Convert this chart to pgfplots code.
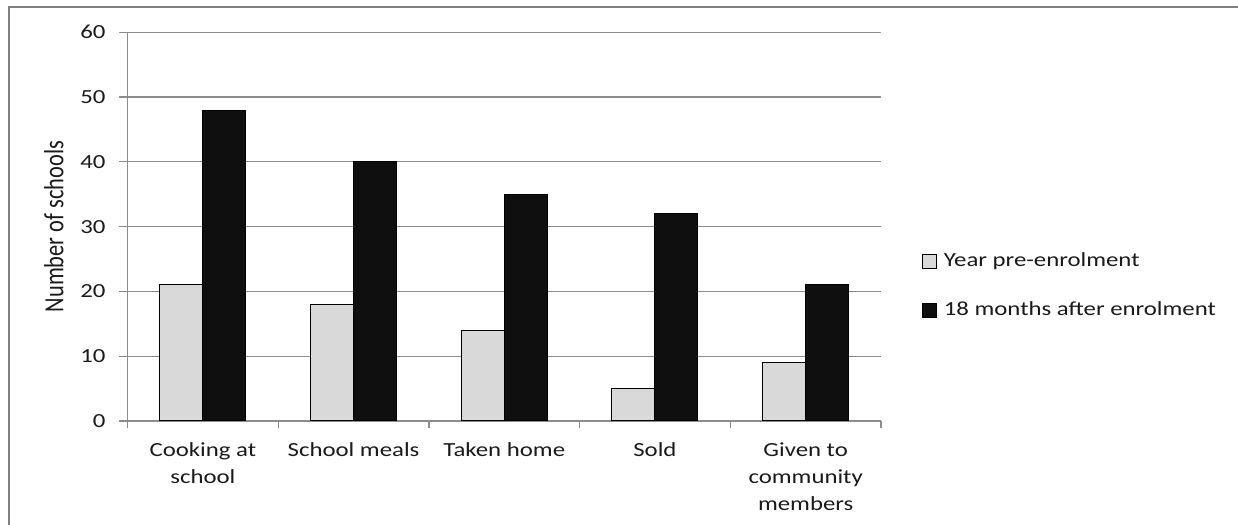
\documentclass[border=0pt]{standalone}
\usepackage{pgfplots}
\pgfplotsset{compat=1.18}
\usepackage{fontspec}
\setmainfont{Carlito}[FakeStretch=1.24]
\newfontfamily\ylabfont{Carlito}
\definecolor{gridgray}{HTML}{8C8C8C}
\definecolor{framegray}{HTML}{808080}
\definecolor{barlight}{HTML}{D9D9D9}
\definecolor{bardark}{HTML}{0F0F0F}
\definecolor{txt}{HTML}{1A1A1A}
\begin{document}
\begin{tikzpicture}
\useasboundingbox (0pt,0pt) rectangle (619pt,262.5pt);
% outer chart frame
\draw[framegray, line width=1pt] (4.5pt,0pt) -- (4.5pt,258.75pt) -- (619pt,258.75pt);
\begin{axis}[
  at={(63.75pt,52pt)}, anchor=south west,
  scale only axis, width=376.75pt, height=194.35pt,
  ybar=0pt, bar width=21.5pt,
  xmin=-0.5, xmax=4.5, ymin=0, ymax=60,
  ytick={0,10,...,60},
  xtick={0,...,4},
  xticklabels={{Cooking at\\school},{School meals},{Taken home},{Sold},{Given to\\community\\members}},
  minor xtick={-0.5,0.5,...,4.5},
  major x tick style={draw=none},
  axis lines*=left,
  axis line style={gridgray, line width=0.6pt},
  ymajorgrids, grid style={gridgray, line width=0.6pt},
  tick align=outside,
  major tick length=4pt, minor tick length=3.5pt,
  tick style={gridgray, line width=0.6pt},
  /pgf/number format/assume math mode=true,
  tick label style={text=txt, font=\fontsize{10}{13.3}\selectfont},
  x tick label style={align=center, anchor=north, yshift=-3.5pt},
  y tick label style={anchor=east, xshift=-3.5pt},
  ylabel={\ylabfont\fontsize{11.2}{12}\selectfont\scalebox{1}[1.24]{Number of schools}},
  ylabel style={at={([xshift=-32pt]axis description cs:0,0.5)}, anchor=base, text=txt},
  legend style={at={(1.0537,0.4356)}, anchor=north west, draw=none, fill=none,
    inner sep=0pt, row sep=15.5pt, column sep=3.5pt, text=txt, font=\fontsize{10}{12}\selectfont,
    nodes={inner sep=0pt, text height=7pt, text depth=2pt}},
  legend cell align=left,
  legend image code/.code={\draw[#1] (0pt,-3.5pt) rectangle (7pt,3.5pt);},
]
\addplot[fill=barlight, draw=black, line width=0.5pt] coordinates {(0,21) (1,18) (2,14) (3,5) (4,9)};
\addplot[fill=bardark, draw=black, line width=0.5pt] coordinates {(0,48) (1,40) (2,35) (3,32) (4,21)};
\legend{Year pre-enrolment, 18 months after enrolment}
\end{axis}
\end{tikzpicture}
\end{document}
